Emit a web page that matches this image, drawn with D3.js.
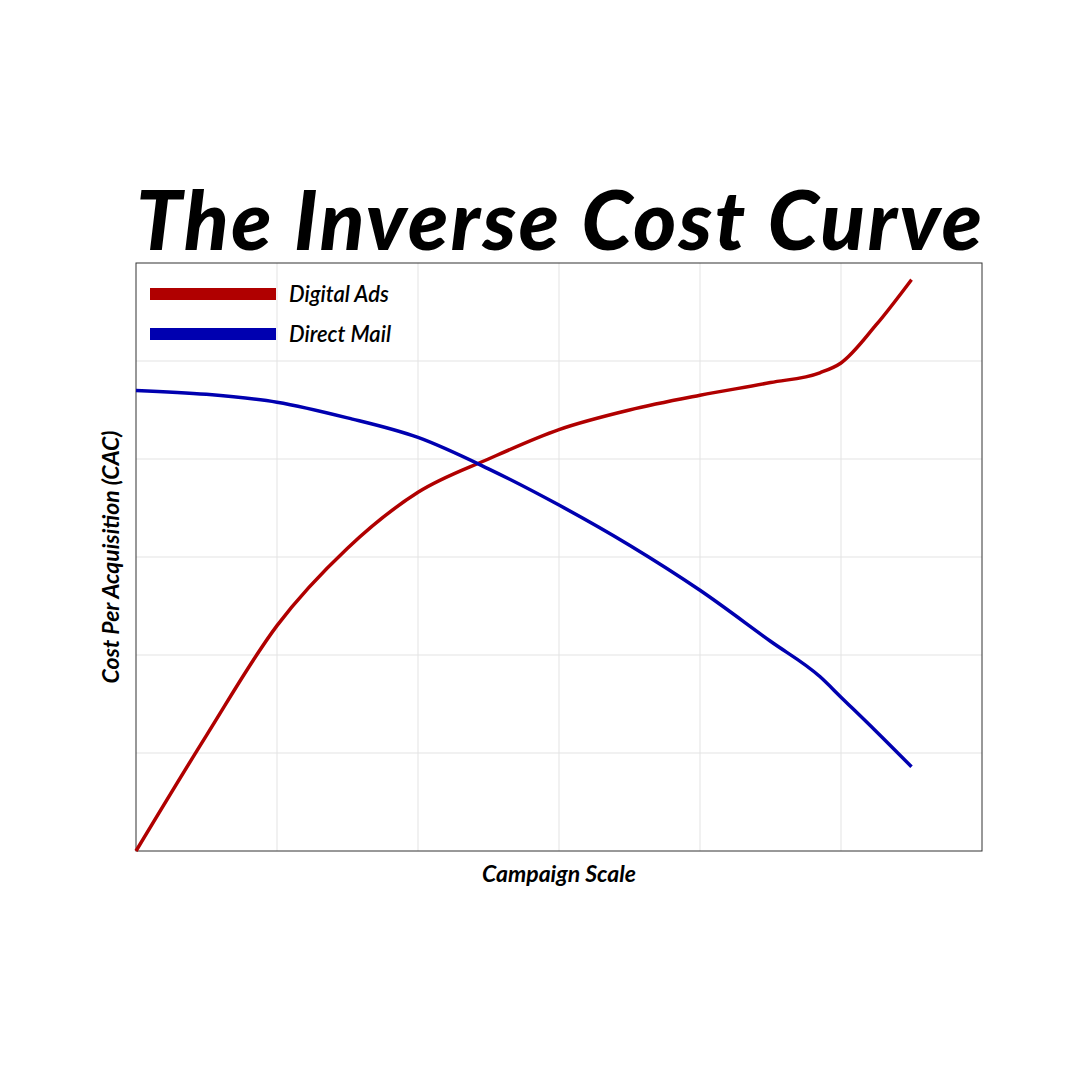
<!DOCTYPE html>
<html><head><meta charset="utf-8">
<script src="https://cdn.jsdelivr.net/npm/d3@7"></script>
<style>body{margin:0;background:#fff}</style></head>
<body><svg id="c" width="1080" height="1080"></svg>
<script>
const xs = [0,0.5,1,1.5,2,2.5,3,3.5,4,4.5,4.85,5,5.25,5.5];
const digitalAds = [0,1.18,2.3,3.09,3.66,4.0,4.3,4.5,4.65,4.78,4.88,4.98,5.37,5.83];
const directMail = [4.7,4.66,4.58,4.42,4.22,3.9,3.53,3.12,2.66,2.14,1.78,1.57,1.22,0.86];
const seriesNames = ["Digital Ads","Direct Mail"];
const colors = ["#b00000","#0000b0"];

const svg = d3.select("#c");
const L=136,R=982,T=263,B=851;
const x = d3.scaleLinear().domain([0,6]).range([L,R]);
const y = d3.scaleLinear().domain([0,6]).range([B,T]);
const g = svg.append("g");
d3.range(1,6).forEach(v=>{
  g.append("line").attr("x1",x(v)).attr("x2",x(v)).attr("y1",T).attr("y2",B).attr("stroke","#e3e3e3").attr("stroke-width",1);
  g.append("line").attr("y1",y(v)).attr("y2",y(v)).attr("x1",L).attr("x2",R).attr("stroke","#e3e3e3").attr("stroke-width",1);
});
svg.append("rect").attr("x",L).attr("y",T).attr("width",R-L).attr("height",B-T).attr("fill","none").attr("stroke","#333").attr("stroke-width",1);
const line = d3.line().x((d,i)=>x(xs[i])).y(d=>y(d)).curve(d3.curveMonotoneX);
[digitalAds,directMail].forEach((s,k)=>{
  svg.append("path").attr("d",line(s)).attr("fill","none").attr("stroke",colors[k]).attr("stroke-width",3.5);
});
seriesNames.forEach((n,k)=>{
  const yy=294+k*40;
  svg.append("line").attr("x1",150).attr("x2",276).attr("y1",yy).attr("y2",yy).attr("stroke",colors[k]).attr("stroke-width",12);
  svg.append("text").attr("x",289).attr("y",yy+8).text(n).attr("font-family","Lato").attr("font-style","italic").attr("font-weight",600).attr("font-size",22);
});
svg.append("text").attr("x",559).attr("y",250).attr("text-anchor","middle").text("The Inverse Cost Curve")
  .attr("font-family","Lato").attr("font-style","italic").attr("font-weight",900).attr("font-size",82).attr("textLength",846);
svg.append("text").attr("x",559).attr("y",882).attr("text-anchor","middle").text("Campaign Scale")
  .attr("font-family","Lato").attr("font-style","italic").attr("font-weight",700).attr("font-size",23);
svg.append("text").attr("transform","translate(119,557) rotate(-90)").attr("text-anchor","middle").text("Cost Per Acquisition (CAC)")
  .attr("font-family","Lato").attr("font-style","italic").attr("font-weight",700).attr("font-size",23);
</script></body></html>
